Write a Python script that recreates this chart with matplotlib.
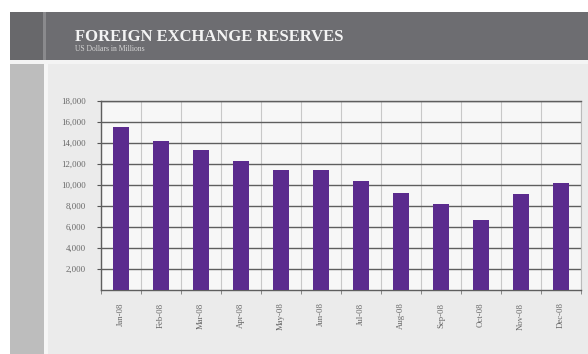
import matplotlib.pyplot as plt
from matplotlib.patches import Rectangle
import numpy as np

# Monthly reserves, US$ millions
months = ["Jan-08", "Feb-08", "Mar-08", "Apr-08", "May-08", "Jun-08",
          "Jul-08", "Aug-08", "Sep-08", "Oct-08", "Nov-08", "Dec-08"]
reserves = [15500, 14200, 13300, 12300, 11400, 11400,
            10400, 9200, 8200, 6700, 9100, 10200]
y_ticks = [2000, 4000, 6000, 8000, 10000, 12000, 14000, 16000, 18000]

W, H = 588, 354
SERIF = ["Liberation Serif", "DejaVu Serif"]


def box(x0, y0, x1, y1):
    """Pixel box (top-left origin) -> figure fraction rect."""
    return (x0 / W, 1 - y1 / H, (x1 - x0) / W, (y1 - y0) / H)


fig = plt.figure(figsize=(W / 100, H / 100), dpi=100)
fig.patch.set_facecolor("white")


def panel(x0, y0, x1, y1, color):
    l, b, w, h = box(x0, y0, x1, y1)
    fig.patches.append(Rectangle((l, b), w, h, transform=fig.transFigure,
                                 facecolor=color, edgecolor="none", zorder=-10))


# page background
panel(10, 60, 588, 354, "#ebebeb")
panel(10, 60, 44, 354, "#bdbdbd")
panel(44, 60, 48, 354, "#f6f6f6")
panel(10, 60, 588, 64, "#f4f4f4")
# header banner
panel(10, 12, 588, 60, "#6d6d71")
panel(10, 12, 43, 60, "#68686b")
panel(43, 12, 46, 60, "#8a8a8d")

fig.text(75 / W, 1 - 41 / H, "FOREIGN EXCHANGE RESERVES", color="#f4f4f4",
         fontsize=12, fontweight="bold", family=SERIF, ha="left", va="baseline")
fig.text(75 / W, 1 - 51 / H, "US Dollars in Millions", color="#d6d6d6",
         fontsize=5.5, family=SERIF, ha="left", va="baseline")

ax = fig.add_axes(box(101, 101, 581, 290))
ax.set_facecolor("#f7f7f7")

x = np.arange(len(months))
ax.bar(x, reserves, width=0.38, color="#5b2b8e", zorder=3)

ax.set_xlim(-0.5, len(months) - 0.5)
ax.set_ylim(0, 18000)

ax.set_yticks(y_ticks)
ax.set_yticklabels([f"{v:,}" for v in y_ticks], family=SERIF,
                   fontsize=6.3, color="#666666")
ax.yaxis.grid(True, color="#5e5e5e", linewidth=1.0, zorder=1)
ax.tick_params(axis="y", length=3, width=0.8, color="#555555", pad=8)

ax.set_xticks(x)
ax.set_xticklabels(months, rotation=90, family=SERIF, fontsize=6.3,
                   color="#666666")
ax.tick_params(axis="x", which="major", length=0, pad=9)
ax.set_xticks(np.arange(len(months) + 1) - 0.5, minor=True)
ax.tick_params(axis="x", which="minor", length=3, color="#777777")
ax.xaxis.grid(True, which="minor", color="#c8c8c8", linewidth=0.8, zorder=1)

for side in ["left", "bottom", "top"]:
    ax.spines[side].set_color("#5e5e5e")
    ax.spines[side].set_linewidth(1.0)
ax.spines["right"].set_color("#bbbbbb")

fig.savefig("out.png", dpi=100)
